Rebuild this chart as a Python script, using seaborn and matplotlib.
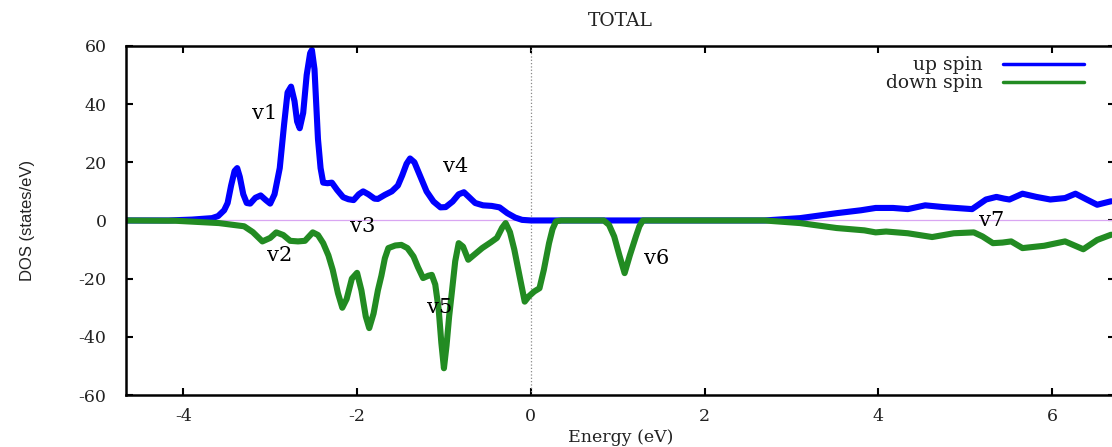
import matplotlib
matplotlib.use("Agg")
import matplotlib.pyplot as plt
from matplotlib.lines import Line2D
import seaborn as sns
import pandas as pd

# Spin-resolved total density of states
up_energy = [-4.66, -4.17, -3.90, -3.67, -3.60, -3.53, -3.49, -3.45, -3.41, -3.38,
             -3.35, -3.31, -3.27, -3.23, -3.17, -3.11, -3.05, -3.00, -2.95, -2.89,
             -2.84, -2.80, -2.76, -2.72, -2.69, -2.66, -2.62, -2.58, -2.54, -2.52,
             -2.49, -2.45, -2.42, -2.39, -2.34, -2.29, -2.23, -2.16, -2.10, -2.04,
             -1.98, -1.93, -1.87, -1.80, -1.76, -1.68, -1.60, -1.53, -1.48, -1.43,
             -1.39, -1.34, -1.27, -1.20, -1.12, -1.04, -0.98, -0.90, -0.83, -0.77,
             -0.71, -0.64, -0.55, -0.45, -0.36, -0.27, -0.18, -0.10, 0.00, 2.69,
             3.10, 3.52, 3.80, 3.97, 4.17, 4.34, 4.54, 4.75, 5.08, 5.24,
             5.36, 5.45, 5.51, 5.66, 5.82, 5.98, 6.15, 6.27, 6.40, 6.52,
             6.68]
up_dos = [0.0, 0.0, 0.3, 0.8, 1.5, 3.5, 6.0, 12.0, 17.0, 18.0,
          15.0, 9.0, 6.0, 5.8, 7.8, 8.6, 7.0, 5.8, 9.0, 18.0,
          33.0, 44.0, 46.0, 41.0, 34.0, 31.7, 37.0, 50.0, 57.5, 58.6,
          52.0, 28.0, 18.0, 13.0, 12.8, 13.0, 10.5, 8.0, 7.3, 7.0,
          9.0, 10.0, 9.0, 7.5, 7.4, 8.8, 10.0, 12.0, 15.5, 19.5,
          21.3, 20.0, 15.0, 10.0, 6.5, 4.5, 4.6, 6.5, 9.0, 9.7,
          8.0, 6.0, 5.2, 5.0, 4.5, 2.5, 1.0, 0.2, 0.0, 0.0,
          0.8, 2.5, 3.5, 4.3, 4.3, 3.9, 5.2, 4.6, 3.9, 7.2,
          8.1, 7.5, 7.2, 9.2, 8.1, 7.2, 7.7, 9.2, 7.2, 5.4,
          6.6]

down_energy = [-4.66, -4.09, -3.59, -3.30, -3.20, -3.09, -3.00, -2.93, -2.85, -2.77,
               -2.68, -2.60, -2.51, -2.45, -2.39, -2.33, -2.28, -2.22, -2.17, -2.12,
               -2.06, -2.00, -1.95, -1.90, -1.86, -1.81, -1.76, -1.72, -1.68, -1.64,
               -1.56, -1.49, -1.42, -1.35, -1.30, -1.24, -1.18, -1.14, -1.10, -1.06,
               -1.03, -1.00, -0.97, -0.94, -0.91, -0.87, -0.83, -0.78, -0.72, -0.66,
               -0.56, -0.46, -0.39, -0.33, -0.29, -0.24, -0.19, -0.13, -0.07, -0.02,
               0.04, 0.10, 0.15, 0.21, 0.25, 0.29, 0.35, 0.84, 0.90, 0.96,
               1.02, 1.08, 1.14, 1.21, 1.25, 1.29, 2.69, 3.10, 3.52, 3.84,
               3.97, 4.09, 4.34, 4.62, 4.87, 5.10, 5.20, 5.32, 5.43, 5.53,
               5.66, 5.91, 6.15, 6.36, 6.52, 6.68]
down_dos = [0.0, -0.1, -0.9, -2.0, -4.0, -7.2, -6.0, -4.1, -5.0, -7.0,
            -7.2, -7.0, -4.1, -5.0, -7.8, -12.0, -17.0, -25.0, -30.0, -27.0,
            -20.0, -18.0, -24.0, -33.0, -37.0, -32.0, -24.0, -19.0, -13.0, -9.5,
            -8.6, -8.4, -9.5, -12.4, -16.0, -19.8, -19.0, -18.7, -22.0, -30.7,
            -42.0, -50.8, -43.0, -33.0, -25.0, -14.0, -7.8, -9.0, -13.5, -12.0,
            -9.5, -7.5, -6.0, -2.5, -0.9, -4.0, -10.0, -19.0, -27.9, -26.0,
            -24.4, -23.3, -17.0, -7.8, -3.0, -0.3, 0.0, 0.0, -1.5, -5.5,
            -12.0, -18.1, -12.0, -5.5, -2.0, 0.0, 0.0, -0.9, -2.6, -3.4,
            -4.1, -3.8, -4.4, -5.7, -4.4, -4.1, -5.5, -7.8, -7.6, -7.2,
            -9.5, -8.7, -7.2, -9.9, -6.7, -4.9]

series_names = ["up spin", "down spin"]
series_colors = ["#0000ff", "#228b22"]

peak_labels = ["v1", "v2", "v3", "v4", "v5", "v6", "v7"]
peak_label_e = [-3.06, -2.89, -1.94, -0.87, -1.05, 1.45, 5.31]
peak_label_dos = [36.9, -12.0, -2.0, 18.6, -30.0, -13.0, 0.0]

x_ticks = [-4, -2, 0, 2, 4, 6]
y_ticks = [-60, -40, -20, 0, 20, 40, 60]

df = pd.concat([
    pd.DataFrame({"Energy": up_energy, "DOS": up_dos, "spin": series_names[0]}),
    pd.DataFrame({"Energy": down_energy, "DOS": down_dos, "spin": series_names[1]}),
], ignore_index=True)

sns.set_style("ticks")
plt.rcParams["font.family"] = ["DejaVu Serif", "Liberation Serif"]
plt.rcParams["axes.unicode_minus"] = False

fig = plt.figure(figsize=(11.12, 4.47), dpi=100)
ax = fig.add_axes([0.1133, 0.1163, 0.889, 0.781])

# reference lines at zero energy / zero DOS
ax.axhline(0, color="#d9a6f2", lw=0.9, zorder=1)
ax.axvline(0, color="#888888", lw=0.9, ls=":", zorder=1)

sns.lineplot(data=df, x="Energy", y="DOS", hue="spin", hue_order=series_names,
             palette=dict(zip(series_names, series_colors)), sort=False,
             estimator=None, lw=4.4, legend=False, ax=ax,
             solid_joinstyle="round", solid_capstyle="round")

for txt, xe, yd in zip(peak_labels, peak_label_e, peak_label_dos):
    ax.text(xe, yd, txt, fontsize=15, ha="center", va="center", color="black",
            zorder=5)

ax.set_xlim(-4.66, 6.72)
ax.set_ylim(-60, 60)
ax.set_xticks(x_ticks)
ax.set_yticks(y_ticks)
ax.tick_params(direction="in", length=5, width=1.5, top=True, right=True,
               labelsize=12.5, colors="black")
ax.tick_params(axis="y", pad=14)
ax.tick_params(axis="x", pad=9)
for tl in ax.get_xticklabels() + ax.get_yticklabels():
    tl.set_color("#222222")
for sp in ax.spines.values():
    sp.set_linewidth(1.8)
    sp.set_color("black")

ax.set_xlabel("Energy (eV)", fontsize=12.5, color="#222222", labelpad=3)
ax.set_ylabel("DOS (states/eV)", fontsize=12, color="#222222",
              family=["Liberation Sans", "DejaVu Sans"])
ax.yaxis.set_label_coords(-0.092, 0.5)
ax.set_title("TOTAL", fontsize=13.5, color="#222222", pad=14)

handles = [Line2D([], [], color=c, lw=2.5) for c in series_colors]
leg = ax.legend(handles, series_names, loc="upper right", frameon=False,
                markerfirst=False, fontsize=13.5, handlelength=4.3,
                handletextpad=1.1, labelspacing=0.0,
                bbox_to_anchor=(0.986, 1.018))
for t in leg.get_texts():
    t.set_color("#222222")

fig.savefig("out.png", dpi=100)
